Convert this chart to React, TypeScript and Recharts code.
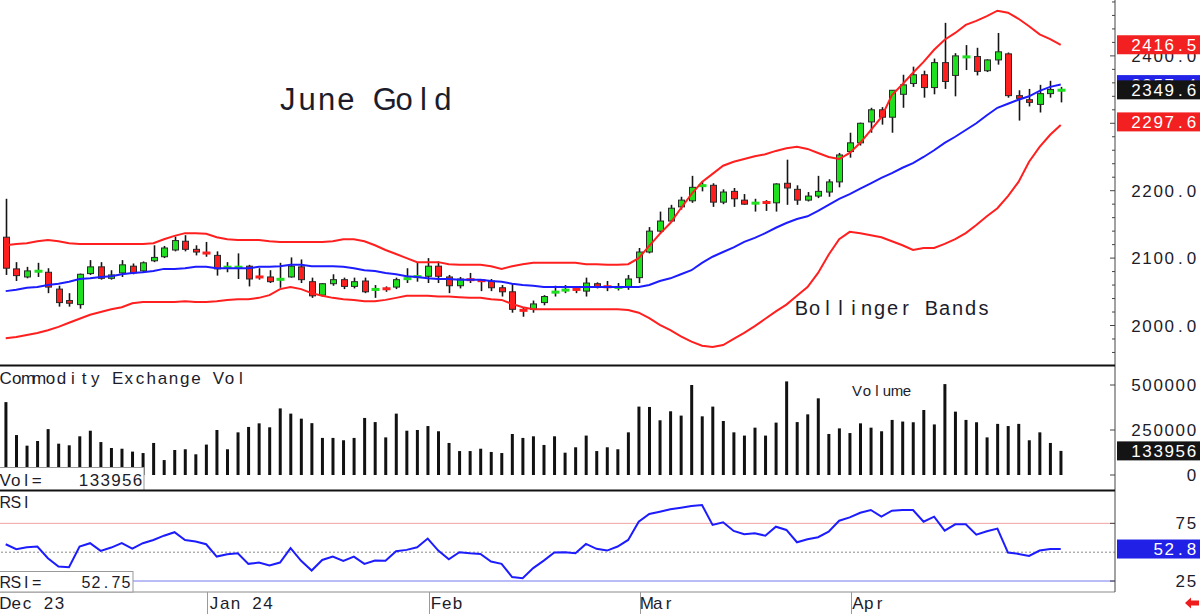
import { Bar, ComposedChart, Line, ReferenceLine, XAxis, YAxis } from "recharts"

// daily June gold futures, Dec 4 2023 .. Apr 29 2024
const openPrices = [
  2131, 2084, 2072, 2080, 2079, 2054, 2037, 2031, 2077, 2087,
  2070, 2078, 2088, 2081, 2096, 2102, 2112, 2125, 2113, 2109,
  2104, 2086, 2086, 2088, 2073, 2072, 2068, 2072, 2087, 2065,
  2045, 2062, 2068, 2058, 2066, 2053, 2055, 2057, 2069, 2072,
  2073, 2088, 2072, 2059, 2069, 2067, 2066, 2056, 2050, 2023,
  2024, 2034, 2048, 2052, 2054, 2051, 2062, 2058, 2056, 2057,
  2071, 2109, 2140, 2155, 2176, 2185, 2207, 2208, 2183, 2199,
  2186, 2181, 2183, 2182, 2211, 2202, 2186, 2192, 2198, 2213,
  2258, 2271, 2302, 2320, 2309, 2343, 2359, 2372, 2353, 2390,
  2371, 2398, 2399, 2378, 2394, 2403, 2341, 2335, 2328, 2344, 2348.5,
]
const highPrices = [
  2188, 2094, 2087, 2093, 2085, 2059, 2048, 2077, 2097, 2094,
  2082, 2097, 2092, 2095, 2119, 2118, 2132, 2134, 2119, 2124,
  2110, 2094, 2107, 2090, 2085, 2082, 2093, 2101, 2098, 2071,
  2063, 2076, 2071, 2071, 2071, 2060, 2058, 2071, 2085, 2093,
  2100, 2095, 2075, 2072, 2078, 2068, 2069, 2060, 2063, 2026,
  2037, 2045, 2059, 2060, 2058, 2071, 2064, 2066, 2063, 2075,
  2115, 2146, 2169, 2179, 2191, 2222, 2214, 2211, 2202, 2204,
  2195, 2188, 2186, 2211, 2246, 2208, 2198, 2222, 2217, 2256,
  2286, 2301, 2323, 2324, 2349, 2372, 2384, 2378, 2396, 2449,
  2404, 2416, 2412, 2395, 2434, 2405, 2349, 2351, 2357, 2363, 2354,
]
const lowPrices = [
  2075, 2066, 2070, 2072, 2048, 2028, 2028, 2025, 2075, 2068,
  2068, 2072, 2076, 2079, 2094, 2100, 2110, 2110, 2104, 2102,
  2074, 2079, 2069, 2058, 2068, 2063, 2056, 2071, 2063, 2041,
  2043, 2059, 2054, 2055, 2048, 2041, 2050, 2054, 2063, 2065,
  2063, 2063, 2048, 2055, 2063, 2051, 2051, 2043, 2019, 2013,
  2019, 2030, 2043, 2048, 2048, 2043, 2055, 2051, 2052, 2053,
  2063, 2107, 2137, 2153, 2172, 2182, 2199, 2176, 2180, 2176,
  2179, 2169, 2170, 2169, 2179, 2179, 2184, 2189, 2191, 2205,
  2249, 2267, 2286, 2298, 2286, 2323, 2354, 2338, 2343, 2351,
  2340, 2379, 2371, 2376, 2387, 2338, 2304, 2325, 2316, 2338, 2331,
]
const closePrices = [
  2085, 2074, 2081, 2081, 2057, 2034, 2033, 2076, 2087, 2070,
  2075, 2090, 2078, 2093, 2101, 2115, 2126, 2113, 2109, 2106,
  2084, 2087, 2087, 2069, 2071, 2065, 2069, 2088, 2068, 2044,
  2062, 2068, 2058, 2065, 2050, 2054, 2054, 2068, 2070, 2073,
  2088, 2073, 2059, 2069, 2067, 2066, 2056, 2050, 2024, 2022,
  2032, 2043, 2051, 2053, 2053, 2063, 2058, 2057, 2057, 2069,
  2109, 2140, 2155, 2174, 2186, 2205, 2208, 2183, 2198, 2188,
  2180, 2182, 2182, 2210, 2204, 2186, 2192, 2199, 2213, 2253,
  2271, 2300, 2320, 2309, 2349, 2357, 2372, 2353, 2390, 2362,
  2400, 2399, 2377, 2394, 2406, 2341, 2337, 2331, 2344, 2350, 2349.6,
]

// Bollinger bands
const bandUpper = [
  2119, 2121, 2122, 2125, 2127, 2125, 2122, 2121, 2121, 2121,
  2121, 2121, 2121, 2121, 2122, 2128, 2133, 2137, 2137, 2136,
  2131, 2128, 2127, 2127, 2127, 2125, 2124, 2124, 2124, 2124,
  2124, 2125, 2128, 2128, 2125, 2119, 2112, 2106, 2100, 2094,
  2094, 2094, 2091, 2090, 2090, 2090, 2088, 2084, 2088, 2091,
  2093, 2093, 2093, 2093, 2093, 2091, 2091, 2090, 2090, 2091,
  2100, 2118, 2136, 2152, 2174, 2195, 2213, 2225, 2237, 2243,
  2247, 2251, 2254, 2259, 2263, 2265, 2262, 2256, 2250, 2247,
  2256, 2271, 2290, 2309, 2342, 2358, 2375, 2391, 2409, 2424,
  2434, 2446, 2452, 2459, 2467, 2464, 2455, 2444, 2432, 2425, 2416.5,
]
const bandMiddle = [
  2051, 2053, 2056, 2057, 2060, 2062, 2065, 2069, 2070, 2072,
  2073, 2076, 2078, 2079, 2081, 2084, 2084, 2085, 2087, 2087,
  2085, 2085, 2085, 2085, 2087, 2087, 2088, 2090, 2090, 2088,
  2088, 2088, 2087, 2085, 2082, 2081, 2078, 2076, 2073, 2072,
  2070, 2069, 2069, 2068, 2068, 2068, 2066, 2065, 2062, 2060,
  2059, 2057, 2057, 2057, 2057, 2057, 2057, 2057, 2057, 2057,
  2057, 2060, 2066, 2070, 2076, 2082, 2093, 2102, 2109, 2116,
  2124, 2130, 2137, 2145, 2152, 2158, 2162, 2170, 2179, 2188,
  2195, 2203, 2211, 2219, 2226, 2234, 2241, 2250, 2260, 2271,
  2280, 2290, 2300, 2312, 2323, 2329, 2335, 2340, 2348, 2354, 2357.4,
]
const bandLower = [
  1981, 1983, 1986, 1989, 1993, 1998, 2004, 2010, 2016, 2020,
  2024, 2027, 2033, 2035, 2035, 2035, 2035, 2036, 2035, 2035,
  2036, 2038, 2039, 2039, 2041, 2045, 2054, 2057, 2054, 2048,
  2044, 2041, 2039, 2038, 2036, 2036, 2038, 2041, 2044, 2044,
  2044, 2043, 2043, 2042, 2041, 2041, 2039, 2038, 2032, 2027,
  2024, 2024, 2024, 2024, 2024, 2024, 2024, 2024, 2024, 2023,
  2019, 2011, 2001, 1993, 1984, 1976, 1970, 1968, 1971, 1980,
  1989, 1999, 2010, 2021, 2031, 2044, 2057, 2078, 2105, 2128,
  2139, 2137, 2134, 2131, 2125, 2119, 2112, 2115, 2115, 2121,
  2128, 2137, 2149, 2162, 2174, 2192, 2213, 2243, 2265, 2283, 2297.6,
]

const volumes = [
  405000, 222000, 163000, 189000, 255000, 174000, 165000, 215000, 246000, 183000,
  150000, 146000, 130000, 122000, 178000, 83000, 139000, 143000, 115000, 169000,
  250000, 143000, 237000, 267000, 287000, 265000, 370000, 341000, 313000, 288000,
  206000, 206000, 193000, 206000, 317000, 294000, 209000, 341000, 246000, 250000,
  272000, 243000, 178000, 133000, 133000, 146000, 128000, 122000, 228000, 206000,
  215000, 167000, 215000, 124000, 154000, 219000, 133000, 154000, 143000, 237000,
  380000, 378000, 304000, 354000, 330000, 500000, 326000, 380000, 300000, 237000,
  219000, 263000, 219000, 291000, 520000, 294000, 337000, 426000, 228000, 259000,
  233000, 287000, 263000, 243000, 306000, 297000, 293000, 361000, 281000, 505000,
  352000, 306000, 293000, 209000, 284000, 272000, 284000, 193000, 237000, 178000, 133956,
]

const rsiValues = [
  56.9, 52.6, 54.3, 54.9, 44.8, 37.6, 37.0, 54.9, 57.8, 51.1,
  54.0, 57.8, 53.1, 57.8, 60.6, 64.3, 67.3, 60.6, 59.2, 56.9,
  46.2, 48.3, 49.1, 39.9, 41.0, 38.4, 41.0, 53.5, 42.5, 34.1,
  43.3, 46.2, 42.5, 46.2, 39.9, 42.7, 42.5, 50.8, 52.0, 54.3,
  61.8, 51.4, 43.9, 50.0, 49.1, 48.5, 41.9, 39.9, 28.4, 27.5,
  36.2, 42.7, 49.7, 50.0, 49.1, 57.2, 52.9, 51.4, 54.9, 60.6,
  76.4, 83.1, 85.1, 87.2, 88.5, 90.0, 90.9, 73.6, 75.9, 68.4,
  65.6, 66.4, 64.3, 72.1, 69.3, 58.6, 61.2, 63.0, 67.8, 77.3,
  80.2, 84.2, 86.6, 80.8, 86.0, 86.6, 86.6, 76.4, 80.8, 68.7,
  74.2, 74.2, 65.2, 68.1, 70.4, 49.7, 48.5, 46.8, 51.4, 52.7, 52.75,
]

const monthLabels = ["Dec 23", "Jan 24", "Feb", "Mar", "Apr"]
const monthStarts = [0, 19, 40, 60, 80]

const priceLabels = [2000, 2100, 2200, 2300, 2400]
const priceMinorTicks = [
  1960, 1980, 2020, 2040, 2060, 2080, 2120, 2140, 2160, 2180,
  2220, 2240, 2260, 2280, 2320, 2340, 2360, 2380, 2420, 2440, 2460, 2480,
]
const volumeLabels = [0, 250000, 500000]
const rsiLabels = [25, 75]

const last = closePrices.length - 1

const rows = closePrices.map((close, i) => ({
  i,
  open: openPrices[i],
  high: highPrices[i],
  low: lowPrices[i],
  close,
  range: [lowPrices[i], highPrices[i]],
  upper: bandUpper[i],
  middle: bandMiddle[i],
  lower: bandLower[i],
  volume: volumes[i],
  rsi: rsiValues[i],
}))

const FONT = '"Liberation Sans", Arial, Helvetica, sans-serif'
const INK = "#1c1c2a"
const RED = "#ff1f1f"
const BLUE = "#1c1cff"
const GREEN = "#1fe01f"
const AXIS_X = 1115
const LABEL_RIGHT = 1197

const priceMarkers = [
  { value: bandMiddle[last], fill: "#2323e8", shift: 0 },
  { value: closePrices[last], fill: "#141414", shift: 0 },
  { value: bandLower[last], fill: "#f22020", shift: -3 },
  { value: bandUpper[last], fill: "#f22020", shift: 0 },
]

const xAxisProps: any = {
  dataKey: "i",
  type: "category",
  scale: "band",
  padding: { left: 0.43, right: 49 },
  interval: 0,
}

const lineProps: any = {
  type: "linear",
  strokeWidth: 2,
  dot: false,
  activeDot: false,
  legendType: "none",
  isAnimationActive: false,
}

// glyphs placed in fixed-width cells, like the terminal font of the chart package
function CellText({ x, y, text, cell, size, fill = INK, align = "start" }: any) {
  const chars = Array.from(String(text))
  const x0 = align === "end" ? x - chars.length * cell : x
  return (
    <text y={y} fontFamily={FONT} fontSize={size} fill={fill} textAnchor="middle">
      {chars.map((ch, k) => (
        <tspan key={k} x={x0 + (k + 0.5) * cell} y={y}>
          {ch}
        </tspan>
      ))}
    </text>
  )
}

function ValueBox({ y, text, fill }: any) {
  return (
    <g>
      <rect x={AXIS_X + 2} y={y - 9.5} width={85} height={19} fill={fill} />
      <CellText x={LABEL_RIGHT} y={y + 6} text={text} cell={11.1} size={17} fill="#fff" align="end" />
    </g>
  )
}

function Candle(props: any) {
  const { x, y, width, height, payload } = props
  if (!payload || height == null) return null
  const { open, high, low, close } = payload
  const cx = Math.round(x + width / 2) + 0.5
  const k = high > low ? height / (high - low) : 0
  const at = (v: number) => y + (high - v) * k
  const top = at(Math.max(open, close))
  const bottom = at(Math.min(open, close))
  const fill = close >= open ? GREEN : RED
  const wick = <line x1={cx} x2={cx} y1={y} y2={y + height} stroke="#151515" strokeWidth={1.6} />
  if (bottom - top < 2.5) {
    return (
      <g>
        {wick}
        <rect x={cx - 4} y={(top + bottom) / 2 - 1.5} width={8} height={3} fill={fill} />
      </g>
    )
  }
  return (
    <g>
      {wick}
      <rect x={cx - 3} y={top} width={6} height={bottom - top} fill={fill} stroke="#2a2a2a" strokeWidth={1} />
    </g>
  )
}

function PriceTick({ y, payload }: any) {
  const v = payload.value
  const marker = priceMarkers.find((m) => m.value === v)
  if (marker) return <ValueBox y={y + marker.shift} text={v.toFixed(1)} fill={marker.fill} />
  if (priceLabels.includes(v)) {
    return (
      <g>
        <line x1={AXIS_X - 5} x2={AXIS_X} y1={y} y2={y} stroke="#444" />
        <CellText x={LABEL_RIGHT} y={y + 6} text={v.toFixed(1)} cell={11.1} size={17} align="end" />
      </g>
    )
  }
  return <line x1={AXIS_X - 3} x2={AXIS_X} y1={y} y2={y} stroke="#444" />
}

function VolumeTick({ y, payload }: any) {
  const v = payload.value
  if (v === volumes[last]) return <ValueBox y={y} text={String(v)} fill="#141414" />
  return (
    <g>
      <line x1={AXIS_X - 5} x2={AXIS_X} y1={y} y2={y} stroke="#444" />
      <CellText x={LABEL_RIGHT} y={y + 6} text={String(v)} cell={11.1} size={17} align="end" />
    </g>
  )
}

function RsiTick({ y, payload }: any) {
  const v = payload.value
  if (v === rsiValues[last]) return <ValueBox y={y} text={v.toFixed(1)} fill="#2020e6" />
  return (
    <g>
      <line x1={AXIS_X - 5} x2={AXIS_X} y1={y} y2={y} stroke="#444" />
      <CellText x={LABEL_RIGHT} y={y + 6} text={String(v)} cell={11.1} size={17} align="end" />
    </g>
  )
}

function MonthTick({ x, payload }: any) {
  const k = monthStarts.indexOf(payload.value)
  if (k < 0) return null
  if (k === 0) return <CellText x={0} y={119} text={monthLabels[k]} cell={10.8} size={17} />
  const lx = Math.round(x) + 1.5
  return (
    <g>
      <line x1={lx} x2={lx} y1={102} y2={124} stroke="#9a9a9a" />
      <CellText x={lx + 1} y={119} text={monthLabels[k]} cell={10.8} size={17} />
    </g>
  )
}

export default function App() {
  return (
    <div style={{ position: "absolute", left: 0, top: 0, width: 1200, height: 614, background: "#fff", overflow: "hidden" }}>
      <div style={{ position: "absolute", left: 0, top: 0 }}>
        <ComposedChart width={1200} height={365} data={rows} margin={{ top: 0, right: 0, bottom: 0, left: 0 }}>
          <XAxis {...xAxisProps} hide />
          <YAxis
            orientation="right"
            width={85}
            domain={[1941.4, 2482.9]}
            allowDataOverflow
            ticks={[...priceMinorTicks, ...priceLabels, ...priceMarkers.map((m) => m.value)]}
            interval={0}
            tickLine={false}
            axisLine={{ stroke: "#444" }}
            tick={(p: any) => <PriceTick {...p} />}
          />
          <Line {...lineProps} dataKey="upper" stroke={RED} />
          <Line {...lineProps} dataKey="middle" stroke={BLUE} />
          <Line {...lineProps} dataKey="lower" stroke={RED} />
          <Bar dataKey="range" barSize={7} shape={(p: any) => <Candle {...p} />} activeBar={false} isAnimationActive={false} />
        </ComposedChart>
      </div>

      <div style={{ position: "absolute", left: 0, top: 365 }}>
        <ComposedChart width={1200} height={125} data={rows} margin={{ top: 0, right: 0, bottom: 0, left: 0 }}>
          <XAxis {...xAxisProps} hide />
          <YAxis
            orientation="right"
            width={85}
            domain={[-83333, 611111]}
            allowDataOverflow
            ticks={[...volumeLabels, volumes[last]]}
            interval={0}
            tickLine={false}
            axisLine={{ stroke: "#444" }}
            tick={(p: any) => <VolumeTick {...p} />}
          />
          <Bar dataKey="volume" fill="#111" barSize={3} activeBar={false} isAnimationActive={false} />
        </ComposedChart>
      </div>

      <div style={{ position: "absolute", left: 0, top: 490 }}>
        <ComposedChart width={1200} height={124} data={rows} margin={{ top: 0, right: 0, bottom: 0, left: 0 }}>
          <XAxis
            {...xAxisProps}
            height={22}
            ticks={monthStarts}
            tickLine={false}
            axisLine={{ stroke: "#8a8a8a" }}
            tick={(p: any) => <MonthTick {...p} />}
          />
          <YAxis
            orientation="right"
            width={85}
            domain={[15.5, 103.9]}
            allowDataOverflow
            ticks={[...rsiLabels, rsiValues[last]]}
            interval={0}
            tickLine={false}
            axisLine={{ stroke: "#444" }}
            tick={(p: any) => <RsiTick {...p} />}
          />
          <ReferenceLine y={75} stroke="#f3a3a3" strokeWidth={1} />
          <ReferenceLine y={50} stroke="#8c8c8c" strokeDasharray="2 2" />
          <ReferenceLine y={25} stroke="#b9bcf6" strokeWidth={2} />
          <Line {...lineProps} dataKey="rsi" stroke={BLUE} />
        </ComposedChart>
      </div>

      <svg width={1200} height={614} style={{ position: "absolute", left: 0, top: 0, pointerEvents: "none" }}>
        <CellText x={278} y={110} text="June Gold" cell={19.4} size={31} />
        <CellText x={795} y={315} text="Bollinger Bands" cell={13} size={20} />

        <line x1={0} x2={AXIS_X} y1={365.5} y2={365.5} stroke="#111" strokeWidth={2} />
        <CellText x={0} y={384} text="Commodity Exchange Vol" cell={11.2} size={17} />
        <CellText x={852} y={396} text="Volume" cell={10} size={15} />
        <rect x={-1} y={467.5} width={145} height={23} fill="#fff" stroke="#999" />
        <CellText x={0} y={486} text="Vol=" cell={10.5} size={17} />
        <CellText x={143} y={486} text={String(volumes[last])} cell={10.8} size={17} align="end" />

        <line x1={0} x2={AXIS_X} y1={490.5} y2={490.5} stroke="#111" strokeWidth={2} />
        <CellText x={0} y={508} text="RSI" cell={10.5} size={16} />
        <rect x={-1} y={571.5} width={134} height={20.5} fill="#fff" stroke="#999" />
        <CellText x={0} y={588} text="RSI=" cell={10.5} size={16} />
        <CellText x={131} y={588} text={rsiValues[last].toFixed(2)} cell={10} size={16} align="end" />

        <polygon points="1185,603 1191,597.5 1191,600.5 1199,600.5 1199,605.5 1191,605.5 1191,608.5" fill="#ee1c1c" />
      </svg>
    </div>
  )
}
